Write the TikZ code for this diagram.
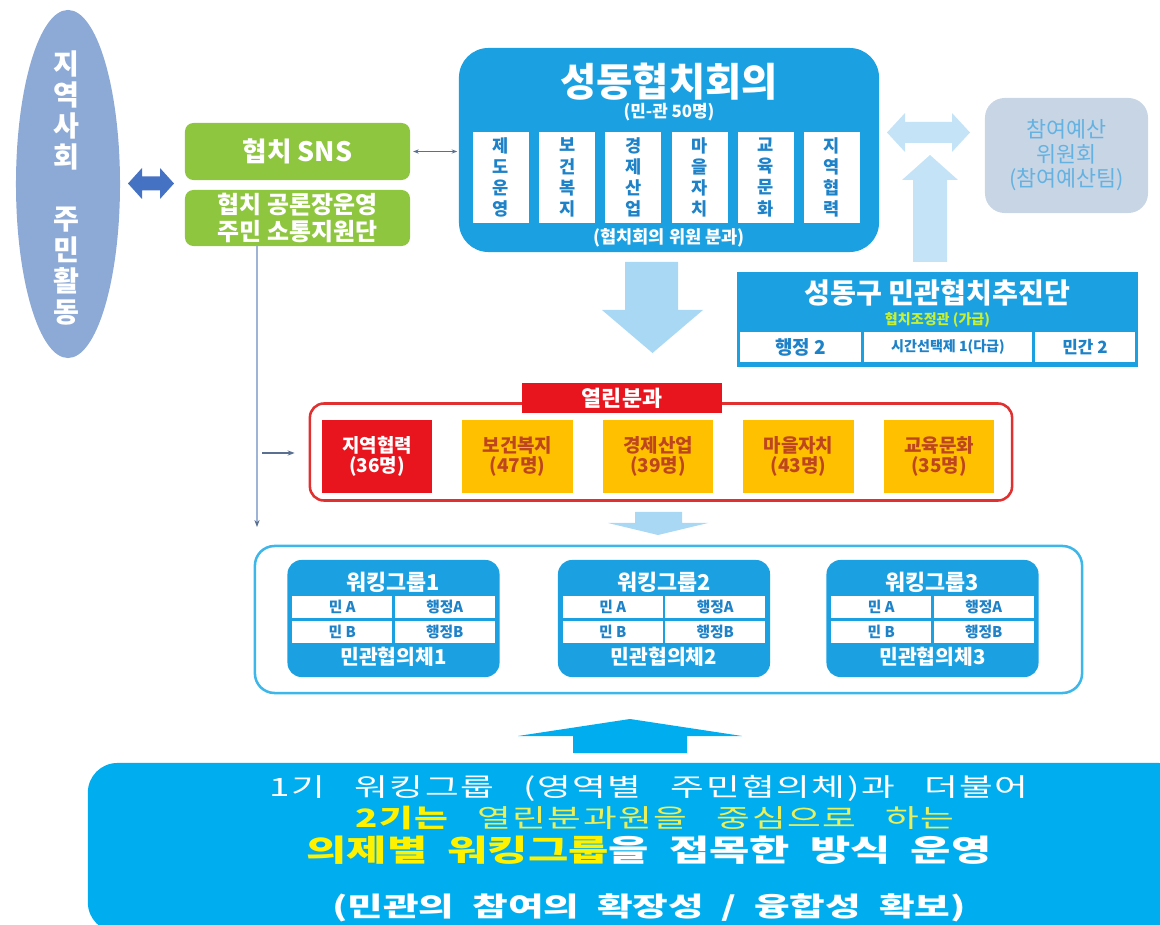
\documentclass[tikz,border=0pt]{standalone}
\usepackage{fontspec}
\setmainfont{Noto Sans CJK KR}
\newfontfamily\krwide[FakeStretch=1.45,WordSpace=2]{Noto Sans CJK KR}
\newfontfamily\krwidel[FakeStretch=1.45,WordSpace=3,LetterSpace=6]{Noto Sans CJK KR}
\usepackage{xcolor}
\usetikzlibrary{shapes.geometric,arrows.meta,positioning,calc}

\definecolor{hubblue}{RGB}{27,161,226}
\definecolor{brightblue}{RGB}{0,174,239}
\definecolor{leafgreen}{RGB}{143,198,64}
\definecolor{steelell}{RGB}{141,170,215}
\definecolor{darkarrow}{RGB}{70,114,196}
\definecolor{paleblue}{RGB}{168,216,244}
\definecolor{paleblue2}{RGB}{196,227,247}
\definecolor{greybox}{RGB}{200,213,229}
\definecolor{greytext}{RGB}{100,178,226}
\definecolor{openred}{RGB}{232,20,30}
\definecolor{openline}{RGB}{224,48,48}
\definecolor{openyellow}{RGB}{255,192,0}
\definecolor{brownred}{RGB}{190,70,30}
\definecolor{cellblue}{RGB}{30,130,200}
\definecolor{grpline}{RGB}{61,183,233}
\definecolor{linkgrey}{RGB}{90,112,145}
\definecolor{vline}{RGB}{157,180,214}
\definecolor{limetext}{RGB}{200,240,50}
\definecolor{softyellow}{RGB}{235,240,90}

\newcommand{\fsz}[2]{\fontsize{#1pt}{#2pt}\selectfont}

\begin{document}
\begin{tikzpicture}[x=0.025cm, y=-0.025cm,
    box/.style={inner sep=0pt, align=center},
    greenbox/.style={box, fill=leafgreen, rounded corners=6pt, text=white, minimum width=5.625cm},
    bluebox/.style={box, fill=hubblue, text=white},
    whitecell/.style={box, fill=white, text=cellblue},
    openbox/.style={box, fill=openyellow, text=brownred, minimum width=2.75cm, minimum height=1.825cm, font=\fsz{13.5}{14.5}\bfseries},
    groupbox/.style={bluebox, rounded corners=10pt, minimum width=5.3cm, minimum height=2.925cm},
    link/.style={draw=linkgrey, line width=0.8pt}
]
    \useasboundingbox (0,0) rectangle (1160,925);

    % Community ellipse on the far left
    \node[ellipse, fill=steelell, minimum width=2.6cm, minimum height=8.7cm, inner sep=0pt] (comm) at (68,184) {};
    \node[box, text=white, font=\fsz{20}{22.1}\bfseries] (commtxt) at (66,188) {지\\역\\사\\회\\[22.1pt]주\\민\\활\\동};
    \fill[darkarrow] (128,183.5) -- (142,168) -- (142,176.5) -- (160,176.5) -- (160,168) -- (174,183.5)
        -- (160,199) -- (160,190.5) -- (142,190.5) -- (142,199) -- cycle;

    % Green SNS / forum boxes
    \node[greenbox, minimum height=1.425cm, font=\fsz{19}{22}\bfseries] (sns) at (297.5,151.5) {협치 SNS};
    \node[greenbox, minimum height=1.4cm, font=\fsz{17}{19}\bfseries] (forum) at (297.5,218) {협치 공론장운영\\주민 소통지원단};

    % ==================== COUNCIL ====================
    \node[bluebox, rounded corners=21pt, minimum width=10.5cm, minimum height=5.1cm] (council) at (669,150) {};
    \node[text=white, font=\fsz{28}{30}\bfseries] (counciltitle) at (669,82) {성동협치회의};
    \node[text=white, font=\fsz{12}{13}\bfseries] (councilsub) at (669,112) {(민-관 50명)};
    \foreach \i/\lbl in {0/제\\도\\운\\영, 1/보\\건\\복\\지, 2/경\\제\\산\\업, 3/마\\을\\자\\치, 4/교\\육\\문\\화, 5/지\\역\\협\\력}
        \node[whitecell, minimum width=1.4cm, minimum height=2.275cm, font=\fsz{12.5}{15}\bfseries] (div\i) at (501+66.2*\i,177.5) {\lbl};
    \node[text=white, font=\fsz{12.5}{14}\bfseries] (councilfoot) at (669,238) {(협치회의 위원 분과)};

    \draw[link, {Stealth[length=4pt]}-{Stealth[length=4pt]}] ([xshift=2pt]sns.east) -- ([xshift=-1pt]sns.east -| council.west);

    % Budget committee and promotion team (right)
    \fill[paleblue2] (887,132.5) -- (905,113) -- (905,122) -- (952,122) -- (952,113) -- (970,132.5)
        -- (952,152) -- (952,143) -- (905,143) -- (905,152) -- cycle;
    \fill[paleblue2] (930,155) -- (958,180) -- (947,180) -- (947,262) -- (913,262) -- (913,180) -- (902,180) -- cycle;
    \node[box, fill=greybox, rounded corners=14pt, minimum width=4.075cm, minimum height=2.875cm, text=greytext, font=\fsz{15.5}{17.4}] (budget) at (1066.5,155.5) {참여예산\\위원회\\(참여예산팀)};

    \node[bluebox, minimum width=10.025cm, minimum height=2.375cm] (team) at (937.5,319.5) {};
    \node[text=white, font=\fsz{20}{22}\bfseries] (teamtitle) at (937.5,293) {성동구 민관협치추진단};
    \node[text=limetext, font=\fsz{10}{11}\bfseries] (teamsub) at (937.5,320) {협치조정관 (가급)};
    \node[whitecell, minimum width=3.025cm, minimum height=0.75cm, font=\fsz{13.5}{15}\bfseries] (admin) at (800.5,347) {행정 2};
    \node[whitecell, minimum width=4.2cm, minimum height=0.75cm, font=\fsz{10}{11}\bfseries] (parttime) at (948,347) {시간선택제 1(다급)};
    \node[whitecell, minimum width=2.5cm, minimum height=0.75cm, font=\fsz{12}{14}\bfseries] (civil) at (1085,347) {민간 2};

    \fill[paleblue] (625,262) -- (678,262) -- (678,310) -- (703,310) -- (652.5,353) -- (602,310) -- (625,310) -- cycle;

    % ==================== OPEN SUBCOMMITTEES ====================
    \node[box, draw=openline, line width=1.8pt, fill=white, rounded corners=10pt, minimum width=17.55cm, minimum height=2.425cm] (open) at (661,452) {};
    \node[box, fill=openred, minimum width=5cm, minimum height=0.725cm, text=white, font=\fsz{15.5}{17}\bfseries] (opentitle) at (622,398) {열린분과};
    \node[openbox, fill=openred, text=white] (area0) at (377,456.5) {지역협력\\(36명)};
    \foreach \i/\lbl in {1/보건복지\\(47명), 2/경제산업\\(39명), 3/마을자치\\(43명), 4/교육문화\\(35명)}
        \node[openbox] (area\i) at (377+140.5*\i,456.5) {\lbl};

    \coordinate (vtop) at (257,246);
    \coordinate (vbot) at (257,527);
    \coordinate (vmid) at (262,453);
    \draw[draw=vline, line width=1.2pt, -{Stealth[length=5pt, color=linkgrey]}] (vtop) -- (vbot);
    \draw[link, -{Stealth[length=5pt]}, shorten >=10pt] (vmid) -- (vmid -| open.west);

    \fill[paleblue] (635,512) -- (682,512) -- (682,523) -- (708,523) -- (658,535) -- (608,523) -- (635,523) -- cycle;

    % ==================== WORKING GROUPS ====================
    \node[box, draw=grpline, line width=1.8pt, fill=white, rounded corners=14pt, minimum width=20.675cm, minimum height=3.675cm] (groups) at (668.5,619.5) {};
    \foreach \i/\x in {1/393.5, 2/664, 3/932.5} {
        \node[groupbox] (wg\i) at (\x,618.5) {};
        \node[text=white, font=\fsz{15.5}{17}\bfseries] (wg\i title) at (\x,582) {워킹그룹\i};
        \node[whitecell, minimum width=2.49cm, minimum height=0.55cm, font=\fsz{10.5}{11}\bfseries] (wg\i a) at (\x-51.25,607) {민 A};
        \node[whitecell, minimum width=2.49cm, minimum height=0.55cm, font=\fsz{10.5}{11}\bfseries] (wg\i b) at (\x+51.25,607) {행정A};
        \node[whitecell, minimum width=2.49cm, minimum height=0.55cm, font=\fsz{10.5}{11}\bfseries] (wg\i c) at (\x-51.25,632) {민 B};
        \node[whitecell, minimum width=2.49cm, minimum height=0.55cm, font=\fsz{10.5}{11}\bfseries] (wg\i d) at (\x+51.25,632) {행정B};
        \node[text=white, font=\fsz{14.5}{16}\bfseries] (wg\i foot) at (\x,657) {민관협의체\i};
    }

    % ==================== SUMMARY ====================
    \fill[brightblue] (518,736) -- (630,719) -- (742,736) -- (687,736) -- (687,753) -- (573,753) -- (573,736) -- cycle;
    \node[box, fill=brightblue, rounded corners=21pt, minimum width=27.5cm, minimum height=4.225cm] (summary) at (638,847.5) {};
    \node[text=white, font=\krwidel\fsz{18}{20}] (line1) at (649,788) {1기 워킹그룹 (영역별 주민협의체)과 더불어};
    \node[text=softyellow, font=\krwidel\fsz{18}{20}] (line2) at (655,818) {{\bfseries\color{yellow}2기는} 열린분과원을 중심으로 하는};
    \node[text=white, font=\krwide\fsz{21.5}{24}\bfseries] (line3) at (649,850) {{\color{yellow}의제별 워킹그룹}을 접목한 방식 운영};
    \node[text=white, font=\krwide\fsz{19}{21}\bfseries] (line4) at (649,908) {(민관의 참여의 확장성 / 융합성 확보)};

\end{tikzpicture}
\end{document}
